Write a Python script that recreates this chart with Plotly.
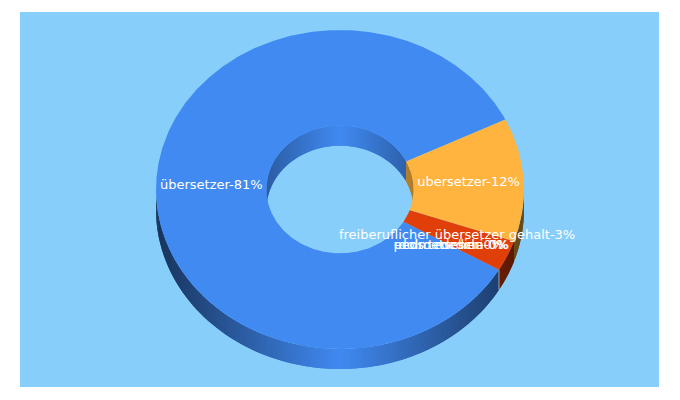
import math
import plotly.graph_objects as go

# ---- data ----
labels = ["übersetzer", "ubersetzer", "freiberuflicher übersetzer gehalt",
          "pedro medina", "dolmetscher", "ecos tedeschi"]
shares = [81, 12, 3, 0, 0, 0]
colors = ["#418af2", "#ffb43f", "#e13f09", "#dc3912", "#990099", "#109618"]

# ---- chart geometry ----
W, H = 680, 400
PANEL = (20, 12, 659, 387)
BG = "#87cefa"
CX, CY, RX, RY = 340, 189.5, 184, 159.5
HOLE = 0.4
DEPTH = 20
START = -30.25  # degrees, math convention, running clockwise


def pt(a, k=1.0, dy=0.0):
    r = math.radians(a)
    return CX + RX * k * math.cos(r), CY - RY * k * math.sin(r) + dy


def shade(c, f):
    return "rgb(%d,%d,%d)" % tuple(int(c[i:i + 2], 16) * f for i in (1, 3, 5))


def frange(a, b, step=1.0):
    n = max(1, int(abs(b - a) / step))
    return [a + (b - a) * i / n for i in range(n + 1)]


def poly(fig, xs, ys, col, lw=0.0):
    fig.add_trace(go.Scatter(x=xs, y=ys, mode="lines", fill="toself", fillcolor=col,
                             line=dict(color=col, width=lw), hoverinfo="skip", showlegend=False))


# slice extents from the values
total = sum(shares)
spans = []
a = START
for v in shares:
    b = a - v / total * 360
    spans.append((a, b))
    a = b


def wall(fig, a0, a1, k, col, visible_lo, visible_hi, strength, step):
    # a0 > a1 ; draw wall strips for the part inside the visible angular band
    for off in (0, 360, 720):
        lo = max(a1 + off, visible_lo)
        hi = min(a0 + off, visible_hi)
        if hi <= lo:
            continue
        seq = frange(lo, hi, step)
        for p, q in zip(seq, seq[1:]):
            r = min(q + step, hi)  # overlap the next strip to hide seams
            x0, y0 = pt(p, k)
            x1, y1 = pt(r, k)
            xm = pt((p + q) / 2, k)[0]
            rel = abs(xm - CX) / (RX * k)
            poly(fig, [x0, x1, x1, x0, x0], [y0, y1, y1 + DEPTH, y0 + DEPTH, y0],
                 shade(col, 1 - strength * rel))


fig = go.Figure()

# inner wall (far side of the hole), then outer wall (near side)
for (a0, b0), c, v in zip(spans, colors, shares):
    if v:
        wall(fig, a0, b0, HOLE, c, 0, 180, 0.32, 2)
for (a0, b0), c, v in zip(spans, colors, shares):
    if v:
        wall(fig, a0, b0, 1.0, c, 180, 360, 0.62, 0.8)

# seam where the large slice meets the small one on the outer wall
sx, sy = pt(START)
fig.add_trace(go.Scatter(x=[sx, sx], y=[sy, sy + DEPTH], mode="lines",
                         line=dict(color="#9aa6b2", width=1), hoverinfo="skip", showlegend=False))

# top face
for (a0, b0), c, v in zip(spans, colors, shares):
    if not v:
        continue
    seq = frange(a0, b0, 0.5)
    out = [pt(t) for t in seq]
    inn = [pt(t, HOLE) for t in reversed(seq)]
    ring = out + inn + out[:1]
    poly(fig, [p[0] for p in ring], [p[1] for p in ring], c)

# labels at mid-radius, mid-angle of each slice
lab_x, lab_y, lab_t = [], [], []
for (a0, b0), name, v in zip(spans, labels, shares):
    x, y = pt((a0 + b0) / 2, (1 + HOLE) / 2)
    lab_x.append(x)
    lab_y.append(y)
    lab_t.append(f"{name}-{v}%")
fig.add_trace(go.Scatter(x=lab_x, y=lab_y, mode="text", text=lab_t, textposition="middle center",
                         textfont=dict(family="DejaVu Sans", size=13, color="white"),
                         hoverinfo="skip", showlegend=False))

fig.update_layout(
    width=W, height=H, margin=dict(l=0, r=0, t=0, b=0),
    paper_bgcolor="white", plot_bgcolor="white", showlegend=False,
    xaxis=dict(range=[0, W], visible=False, fixedrange=True),
    yaxis=dict(range=[H, 0], visible=False, fixedrange=True),
    shapes=[dict(type="rect", layer="below", xref="x", yref="y",
                 x0=PANEL[0], y0=PANEL[1], x1=PANEL[2], y1=PANEL[3],
                 fillcolor=BG, line=dict(width=0))],
)
fig.write_html("out.html", config={"displayModeBar": False},
               post_script="document.body.style.margin='0';")
